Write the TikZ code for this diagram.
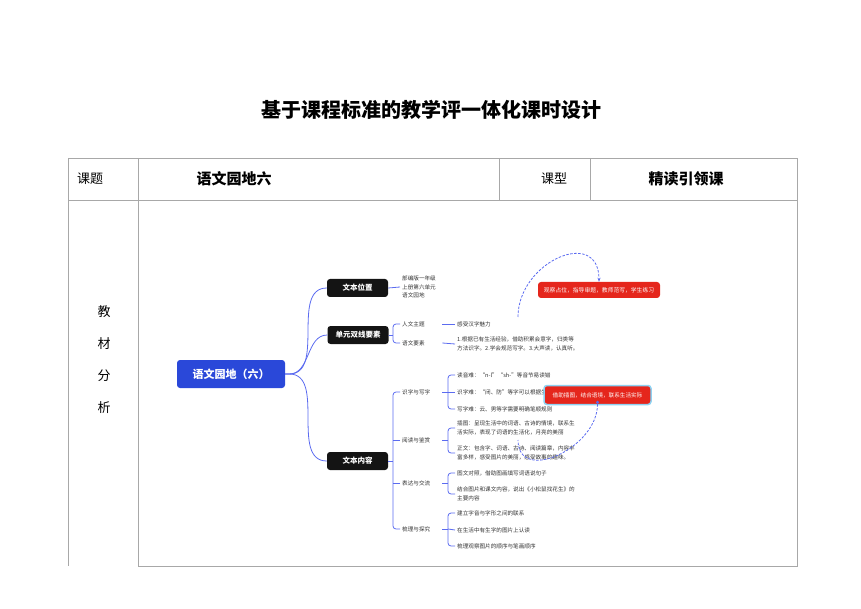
\documentclass[tikz,border=0pt]{standalone}
\usepackage{fontspec}
\setmainfont{Noto Sans CJK SC}
\usepackage{xcolor}
\usetikzlibrary{arrows.meta, positioning, calc}
\definecolor{mapblue}{HTML}{5B6BF0}
\definecolor{rootblue}{HTML}{2A48D9}
\definecolor{notered}{HTML}{E5261C}
\definecolor{selblue}{HTML}{8ED2F2}
\definecolor{gridgray}{HTML}{A8A8A8}

\begin{document}
\begin{tikzpicture}[x=1pt, y=-1pt,
  tableline/.style={draw=gridgray, line width=0.7pt},
  cell/.style={font=\fontsize{13}{13}\selectfont, inner sep=0pt},
  headcell/.style={font=\fontsize{15}{15}\selectfont\bfseries, inner sep=0pt},
  rootbox/.style={fill=rootblue, text=white, rounded corners=3pt,
                  minimum width=108pt, minimum height=28pt,
                  font=\fontsize{11}{11}\selectfont\bfseries},
  topic/.style={fill=black!92, text=white, rounded corners=3pt,
                minimum width=61pt, minimum height=18pt, inner sep=2pt,
                font=\fontsize{7.5}{7.5}\selectfont\bfseries},
  lab/.style={anchor=west, text width=38pt, inner sep=2pt, text=black!80,
              font=\fontsize{5.6}{8.5}\selectfont},
  leaf/.style={anchor=west, align=left, inner sep=2pt, text=black!80,
               font=\fontsize{5.6}{8.5}\selectfont},
  notebox/.style={fill=notered, text=white, rounded corners=3pt,
                  inner sep=2pt, font=\fontsize{5.8}{6}\selectfont},
  link/.style={draw=mapblue, line width=0.8pt},
  hint/.style={draw=mapblue, line width=0.8pt, dash pattern=on 2.5pt off 1.5pt},
]
\useasboundingbox (0,0) rectangle (861,609);

% Title and table
\node[font=\fontsize{20}{20}\selectfont\bfseries] (title) at (431,110)
  {基于课程标准的教学评一体化课时设计};

\draw[tableline] (68,158) -- (797,158);
\draw[tableline] (68,200) -- (797,200);
\draw[tableline] (68,158) -- (68,566);
\draw[tableline] (138,158) -- (138,566) -- (797,566) -- (797,158);
\draw[tableline] (499,158) -- (499,200);
\draw[tableline] (590,158) -- (590,200);

\node[cell] (kt) at (90,179) {课题};
\node[headcell] (ktname) at (234,179) {语文园地六};
\node[cell] (kx) at (554,179) {课型};
\node[headcell] (kxname) at (686,179) {精读引领课};

\node[cell] (jiao) at (104,312) {教};
\node[cell] (cai) at (104,344) {材};
\node[cell] (fen) at (104,376) {分};
\node[cell] (xi) at (104,408) {析};

% Mind map
\node[rootbox] (root) at (231,374) {语文园地（六）};
\node[topic] (pos) at (357.5,288) {文本位置};
\node[topic] (dual) at (358,335) {单元双线要素};
\node[topic] (content) at (357.5,461) {文本内容};

\draw[link] (root.east) -- ++(4,0) to[out=0,in=180] (pos.west);
\draw[link] (root.east) -- ++(4,0) to[out=0,in=180] (dual.west);
\draw[link] (root.east) -- ++(4,0) to[out=0,in=180] (content.west);

% Text position
\node[leaf] (posinfo) at (400,287) {部编版一年级\\上册第六单元\\语文园地};
\draw[link] (pos.east) -- (posinfo.west);

% Two lines of the unit
\node[lab] (humanity) at (400,324) {人文主题};
\node[lab] (element) at (400,343) {语文要素};
\node[leaf] (humtxt) at (455,324) {感受汉字魅力};
\node[leaf] (eletxt) at (455,344)
  {1.根据已有生活经验，借助积累会意字，归类等\\方法识字。2.学会规范写字。3.大声读，认真听。};
\coordinate (dualfork) at (393,335);
\draw[link] (dual.east) -- (dualfork);
\draw[link, rounded corners=3pt] (humanity.west) -| (dualfork) |- (element.west);
\draw[link] (humanity.east) -- (humtxt.west);
\draw[link] (element.east) -- (eletxt.west);

% Text content
\node[lab] (lit) at (400,392) {识字与写字};
\node[lab] (read) at (400,440) {阅读与鉴赏};
\node[lab] (expr) at (400,483) {表达与交流};
\node[lab] (sort) at (400,529) {梳理与探究};
\coordinate (contentfork) at (393,461);
\draw[link] (content.east) -- (contentfork);
\draw[link, rounded corners=3pt] (lit.west) -| (contentfork) |- (sort.west);
\draw[link] (read.west) -- (read.west -| contentfork);
\draw[link] (expr.west) -- (expr.west -| contentfork);

\node[leaf] (lit1) at (455,375) {读音难：“n-l”“sh-”等音节易读错};
\node[leaf] (lit2) at (455,392) {识字难：“闭、防”等字可以根据生};
\node[leaf] (lit3) at (455,409) {写字难：云、男等字需要明确笔顺规则};
\coordinate (litfork) at (448,392);
\draw[link] (lit.east) -- (litfork);
\draw[link, rounded corners=3pt] (lit1.west) -| (litfork) |- (lit3.west);
\draw[link] (lit2.west) -- (litfork);

\node[leaf] (read1) at (455,428)
  {插图：呈现生活中的词语、古诗的情境，联系生\\活实际，表现了词语的生活化，月亮的美丽};
\node[leaf] (read2) at (455,453)
  {正文：包含字、词语、古诗、阅读篇章，内容丰\\富多样，感受图片的美丽，感受故事的趣味。};
\coordinate (readfork) at (448,440);
\draw[link] (read.east) -- (readfork);
\draw[link, rounded corners=3pt] (read1.west) -| (readfork) |- (read2.west);

\node[leaf] (expr1) at (455,473) {图文对照，借助图画填写词语说句子};
\node[leaf] (expr2) at (455,494)
  {结合图片和课文内容，说出《小松鼠找花生》的\\主要内容};
\coordinate (exprfork) at (448,483);
\draw[link] (expr.east) -- (exprfork);
\draw[link, rounded corners=3pt] (expr1.west) -| (exprfork) |- (expr2.west);

\node[leaf] (sort1) at (455,513) {建立字音与字形之间的联系};
\node[leaf] (sort2) at (455,530) {在生活中有生字的图片上认读};
\node[leaf] (sort3) at (455,546) {梳理观察图片的顺序与笔画顺序};
\coordinate (sortfork) at (448,529);
\draw[link] (sort.east) -- (sortfork);
\draw[link, rounded corners=3pt] (sort1.west) -| (sortfork) |- (sort3.west);
\draw[link] (sort2.west) -- (sortfork);

% Teaching notes
\node[notebox, minimum width=122pt, minimum height=16pt] (note1) at (599,290)
  {观察占位，指导审题，教师范写，学生练习};
\coordinate (hintstart) at (518,317);
\draw[hint, -{Stealth[length=4pt]}] (hintstart) to[out=90,in=90,looseness=1.6] (note1.north);

\node[notebox, minimum width=107pt, minimum height=19pt, draw=selblue,
      line width=1.5pt, font=\fontsize{5.6}{6}\selectfont] (note2) at (597.5,395)
  {借助插图，结合语境，联系生活实际};
\node[circle, fill=mapblue, inner sep=1.2pt] (pin) at ([yshift=3pt]note2.south) {};
\coordinate (hintend) at (518,440);
\draw[hint] (pin) to[out=-90,in=-90,looseness=1.3] (hintend);
\end{tikzpicture}
\end{document}
